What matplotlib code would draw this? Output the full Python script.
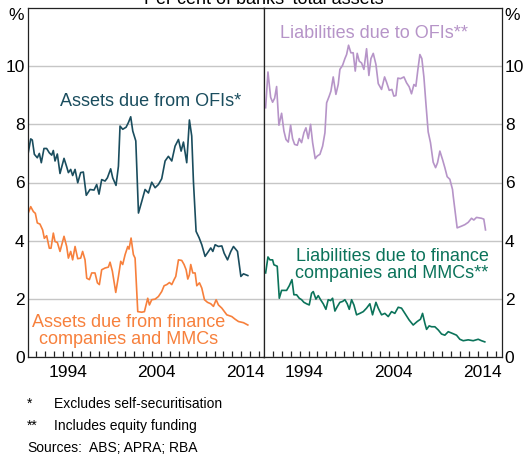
import matplotlib
matplotlib.use("Agg")
import matplotlib.pyplot as plt
import numpy as np

plt.rcParams['font.family'] = ['Liberation Sans', 'DejaVu Sans']

# Assets due from OFIs* (per cent of banks' total assets)
ofi_assets_year = [1990.02, 1990.36, 1990.54, 1990.77, 1991.10, 1991.33, 1991.55, 1991.85,
                   1992.15, 1992.45, 1992.72, 1992.90, 1993.09, 1993.35, 1993.65, 1994.10,
                   1994.40, 1994.59, 1994.85, 1995.07, 1995.34, 1995.64, 1995.97, 1996.27,
                   1996.60, 1997.02, 1997.47, 1997.77, 1998.03, 1998.33, 1998.71, 1998.97,
                   1999.34, 1999.57, 1999.94, 2000.21, 2000.39, 2000.69, 2001.07, 2001.33,
                   2001.59, 2001.82, 2002.16, 2002.46, 2002.83, 2003.20, 2003.58, 2003.95,
                   2004.33, 2004.70, 2005.07, 2005.45, 2005.82, 2006.20, 2006.57, 2006.95,
                   2007.25, 2007.51, 2007.88, 2008.18, 2008.44, 2008.63, 2008.93, 2009.27,
                   2009.57, 2009.94, 2010.32, 2010.58, 2010.81, 2011.07, 2011.44, 2011.82,
                   2012.08, 2012.46, 2012.83, 2013.13, 2013.58, 2013.96, 2014.25, 2014.74]
ofi_assets = [6.91, 7.50, 7.46, 6.97, 6.85, 7.00, 6.68, 7.17,
              7.17, 7.02, 6.94, 7.10, 6.74, 6.98, 6.31, 6.83,
              6.54, 6.34, 6.45, 6.24, 6.45, 5.99, 6.34, 6.36,
              5.56, 5.76, 5.74, 5.93, 5.60, 6.10, 6.05, 6.16,
              6.47, 6.16, 5.90, 6.56, 7.94, 7.83, 7.90, 8.06,
              8.26, 7.77, 7.43, 4.95, 5.35, 5.76, 5.64, 6.01,
              5.82, 5.93, 6.13, 6.74, 6.90, 6.74, 7.25, 7.48,
              7.08, 7.39, 6.68, 8.15, 7.60, 6.05, 4.32, 4.10,
              3.86, 3.46, 3.63, 3.75, 3.63, 3.86, 3.80, 3.82,
              3.57, 3.34, 3.63, 3.80, 3.63, 2.77, 2.86, 2.80]

# Assets due from finance companies and MMCs
fc_assets_year = [1990.02, 1990.36, 1990.66, 1990.88, 1991.10, 1991.40, 1991.70, 1991.89,
                  1992.15, 1992.45, 1992.64, 1992.90, 1993.09, 1993.35, 1993.65, 1994.10,
                  1994.40, 1994.59, 1994.85, 1995.07, 1995.34, 1995.64, 1995.97, 1996.19,
                  1996.46, 1996.65, 1996.95, 1997.21, 1997.58, 1997.85, 1998.07, 1998.33,
                  1998.71, 1999.08, 1999.27, 1999.53, 1999.91, 2000.21, 2000.47, 2000.69,
                  2000.96, 2001.26, 2001.40, 2001.63, 2001.89, 2002.08, 2002.38, 2002.83,
                  2003.13, 2003.50, 2003.69, 2003.95, 2004.33, 2004.70, 2005.07, 2005.34,
                  2005.64, 2005.94, 2006.20, 2006.46, 2006.65, 2006.95, 2007.32, 2007.58,
                  2007.81, 2008.00, 2008.18, 2008.33, 2008.56, 2008.82, 2009.01, 2009.31,
                  2009.57, 2009.87, 2010.21, 2010.58, 2010.88, 2011.18, 2011.44, 2011.82,
                  2012.38, 2012.94, 2013.31, 2013.69, 2014.25, 2014.74]
fc_assets = [4.90, 5.17, 5.00, 4.94, 4.61, 4.57, 4.37, 4.08,
             4.17, 3.74, 3.74, 4.26, 3.97, 3.94, 3.63, 4.15,
             3.80, 3.40, 3.63, 3.34, 3.80, 3.38, 3.40, 3.63,
             3.34, 2.71, 2.66, 2.89, 2.89, 2.55, 2.49, 3.00,
             3.06, 3.09, 3.26, 2.95, 2.22, 2.77, 3.29, 3.18,
             3.52, 3.80, 3.71, 4.09, 3.52, 3.40, 1.56, 1.54,
             1.56, 2.02, 1.79, 1.97, 1.99, 2.08, 2.25, 2.45,
             2.49, 2.56, 2.49, 2.66, 2.77, 3.34, 3.32, 3.18,
             3.00, 2.68, 2.83, 3.18, 2.89, 2.89, 2.45, 2.55,
             2.37, 1.97, 1.88, 1.83, 1.74, 1.97, 1.79, 1.68,
             1.45, 1.39, 1.30, 1.22, 1.18, 1.10]

# Liabilities due to OFIs**
ofi_liab_year = [1990.19, 1990.45, 1990.75, 1990.97, 1991.20, 1991.42, 1991.68, 1991.98,
                 1992.24, 1992.47, 1992.73, 1992.99, 1993.21, 1993.44, 1993.74, 1993.96,
                 1994.22, 1994.48, 1994.71, 1994.97, 1995.23, 1995.46, 1995.75, 1995.98,
                 1996.28, 1996.58, 1996.84, 1997.03, 1997.32, 1997.51, 1997.77, 1998.07,
                 1998.33, 1998.52, 1998.82, 1999.08, 1999.27, 1999.49, 1999.75, 2000.01,
                 2000.24, 2000.46, 2000.69, 2000.95, 2001.21, 2001.51, 2001.77, 2002.00,
                 2002.26, 2002.56, 2002.82, 2003.19, 2003.53, 2003.75, 2004.05, 2004.35,
                 2004.57, 2004.80, 2005.02, 2005.32, 2005.70, 2005.99, 2006.29, 2006.55,
                 2006.82, 2007.04, 2007.26, 2007.49, 2007.71, 2007.94, 2008.16, 2008.42,
                 2008.68, 2008.98, 2009.25, 2009.47, 2009.73, 2010.03, 2010.29, 2010.55,
                 2010.85, 2011.15, 2011.23, 2011.67, 2012.16, 2012.53, 2012.91, 2013.28,
                 2013.54, 2013.84, 2014.40, 2014.66, 2014.85]
ofi_liab = [8.57, 9.80, 8.93, 8.76, 8.90, 9.30, 7.97, 8.38,
            7.77, 7.48, 7.39, 7.97, 7.51, 7.31, 7.28, 7.51,
            7.37, 7.71, 7.88, 7.51, 8.00, 7.37, 6.82, 6.91,
            6.97, 7.25, 7.71, 8.74, 8.97, 9.14, 9.63, 9.03,
            9.37, 9.89, 10.03, 10.26, 10.40, 10.72, 10.46, 10.46,
            9.83, 10.44, 10.17, 10.11, 9.89, 10.60, 9.68, 10.26,
            10.44, 10.06, 9.40, 9.20, 9.63, 9.45, 9.17, 9.20,
            8.97, 8.99, 9.59, 9.57, 9.63, 9.43, 9.29, 9.05,
            9.37, 9.31, 9.87, 10.40, 10.26, 9.63, 8.74, 7.74,
            7.37, 6.70, 6.51, 6.68, 7.08, 6.79, 6.51, 6.20,
            6.11, 5.76, 5.53, 4.44, 4.50, 4.55, 4.63, 4.77,
            4.71, 4.80, 4.77, 4.74, 4.37]

# Liabilities due to finance companies and MMCs**
fc_liab_year = [1990.19, 1990.45, 1990.67, 1990.97, 1991.12, 1991.35, 1991.49, 1991.72,
                1991.98, 1992.24, 1992.54, 1992.84, 1993.14, 1993.36, 1993.66, 1993.96,
                1994.22, 1994.48, 1994.78, 1995.08, 1995.34, 1995.53, 1995.83, 1996.09,
                1996.35, 1996.65, 1996.95, 1997.21, 1997.47, 1997.70, 1997.96, 1998.22,
                1998.52, 1998.82, 1999.08, 1999.34, 1999.57, 1999.83, 2000.09, 2000.39,
                2000.76, 2001.14, 2001.51, 2001.88, 2002.18, 2002.56, 2002.82, 2003.19,
                2003.56, 2003.94, 2004.31, 2004.68, 2005.06, 2005.43, 2005.81, 2006.29,
                2006.74, 2007.19, 2007.56, 2007.79, 2008.05, 2008.24, 2008.53, 2008.80,
                2009.17, 2009.55, 2009.92, 2010.29, 2010.67, 2011.15, 2011.60, 2011.97,
                2012.35, 2012.91, 2013.47, 2014.03, 2014.40, 2014.77]
fc_liab = [2.89, 3.44, 3.34, 3.34, 3.17, 3.14, 3.12, 2.02,
           2.29, 2.29, 2.29, 2.45, 2.66, 2.14, 2.14, 2.02,
           1.97, 1.88, 1.83, 1.79, 2.19, 2.25, 1.99, 2.11,
           1.97, 1.83, 1.64, 1.97, 1.94, 2.02, 1.58, 1.73,
           1.88, 1.91, 1.97, 1.83, 1.64, 1.97, 1.79, 1.45,
           1.50, 1.56, 1.68, 1.83, 1.45, 1.88, 1.68, 1.45,
           1.50, 1.39, 1.56, 1.50, 1.71, 1.68, 1.50, 1.27,
           1.10, 1.22, 1.30, 1.50, 1.16, 0.95, 1.07, 1.04,
           1.04, 0.93, 0.79, 0.75, 0.87, 0.81, 0.75, 0.61,
           0.56, 0.59, 0.56, 0.61, 0.56, 0.52]

yticks = [0, 2, 4, 6, 8, 10]
year_labels = ['1994', '2004', '2014']

DARK = '#1a4d5e'
ORANGE = '#f7803c'
PURPLE = '#b694c8'
GREEN = '#0b735a'
GRID = '#c6c6c6'
FS = 13
TICK_FS = 12.5

W, H = 524, 454
fig = plt.figure(figsize=(W / 100, H / 100), dpi=100)
ax1 = fig.add_axes([27.5 / W, (H - 357) / H, 236 / W, 349 / H])
ax2 = fig.add_axes([263.5 / W, (H - 357) / H, 238.5 / W, 349 / H])

for ax in (ax1, ax2):
    ax.set_ylim(0, 12)
    ax.set_yticks(yticks)
    ax.grid(axis='y', color=GRID, lw=1.0)
    ax.set_axisbelow(True)
    ax.set_xticks(np.arange(1991, 2017))
    ax.set_xticklabels([])
    ax.set_xticks([int(y) + 0.5 for y in year_labels], minor=True)
    ax.set_xticklabels(year_labels, minor=True, fontsize=TICK_FS)
    ax.tick_params(axis='x', which='major', direction='in', length=4.5, width=0.9, color='#222222')
    ax.tick_params(axis='x', which='minor', length=0, pad=5.5)
    ax.tick_params(axis='y', length=0, labelsize=TICK_FS)
    for s in ax.spines.values():
        s.set_color('#222222')
        s.set_linewidth(0.9)

ax1.set_xlim(1990.0, 2016.5)
ax2.set_xlim(1989.95, 2016.7)
ax1.tick_params(axis='y', pad=2)
ax2.yaxis.tick_right()
ax2.tick_params(axis='y', pad=2)

ax1.plot(ofi_assets_year, ofi_assets, color=DARK, lw=1.2)
ax1.plot(fc_assets_year, fc_assets, color=ORANGE, lw=1.2)
ax2.plot(ofi_liab_year, ofi_liab, color=PURPLE, lw=1.2)
ax2.plot(fc_liab_year, fc_liab, color=GREEN, lw=1.2)

# series labels
fig.text(151 / W, 1 - 102 / H, 'Assets due from OFIs*', color=DARK, fontsize=FS,
         ha='center', va='center')
fig.text(129 / W, 1 - 331 / H, 'Assets due from finance\ncompanies and MMCs', color=ORANGE,
         fontsize=FS, ha='center', va='center', linespacing=1.0)
fig.text(374.5 / W, 1 - 33.5 / H, 'Liabilities due to OFIs**', color=PURPLE, fontsize=FS,
         ha='center', va='center')
fig.text(392 / W, 1 - 265 / H, 'Liabilities due to finance\ncompanies and MMCs**', color=GREEN,
         fontsize=FS, ha='center', va='center', linespacing=1.0)

# units and the panel heading running off the top edge
fig.text(16 / W, 1 - 16 / H, '%', fontsize=TICK_FS, ha='center', va='center')
fig.text(512 / W, 1 - 16 / H, '%', fontsize=TICK_FS, ha='center', va='center')
fig.text(264 / W, 1 - 3.5 / H, "Per cent of banks' total assets", fontsize=FS,
         ha='center', va='baseline')

# footnotes
FN = 10
fig.text(27 / W, 1 - 404 / H, '*', fontsize=FN, va='center')
fig.text(54 / W, 1 - 404 / H, 'Excludes self-securitisation', fontsize=FN, va='center')
fig.text(27 / W, 1 - 426 / H, '**', fontsize=FN, va='center')
fig.text(54 / W, 1 - 426 / H, 'Includes equity funding', fontsize=FN, va='center')
fig.text(27 / W, 1 - 448 / H, 'Sources:', fontsize=FN, va='center')
fig.text(89 / W, 1 - 448 / H, 'ABS; APRA; RBA', fontsize=FN, va='center')

fig.savefig('out.png', dpi=100)
